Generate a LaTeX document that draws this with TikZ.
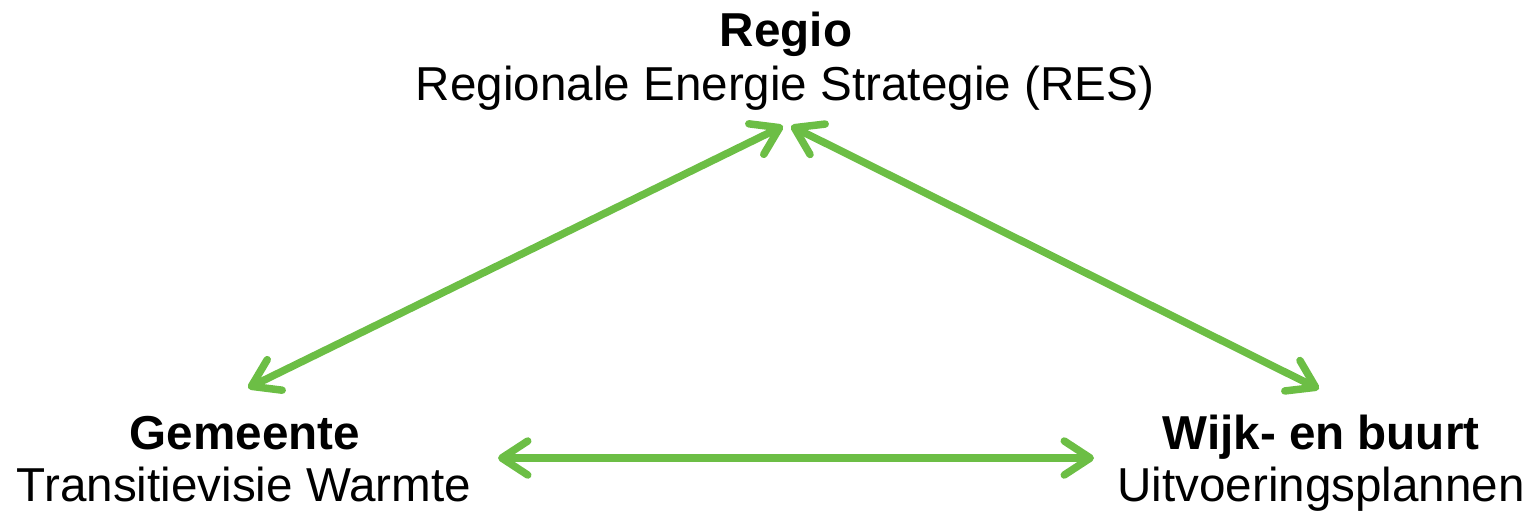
\documentclass[tikz,border=0pt]{standalone}
\usepackage{fontspec}
\setmainfont{Liberation Sans}
\usetikzlibrary{arrows.meta}
\definecolor{arrgreen}{RGB}{108,190,69}
\tikzset{
  lbl/.style={anchor=base, inner sep=0pt, font=\fontsize{47.6}{53}\selectfont},
  ttl/.style={lbl, font=\fontsize{47.6}{53}\selectfont\bfseries},
  link/.style={draw=arrgreen, line width=7.5pt, line cap=round,
    {Straight Barb[length=26pt,width=34pt,line cap=round,line join=round]}-{Straight Barb[length=26pt,width=34pt,line cap=round,line join=round]}}
}
\begin{document}
\begin{tikzpicture}[x=1pt,y=-1pt]
\useasboundingbox (0,0) rectangle (1538,515);
\node[ttl] (regioT) at (786,46) {Regio};
\node[lbl] (regio) at (785,100) {Regionale Energie Strategie (RES)};
\node[ttl] (gemT) at (245,449) {Gemeente};
\node[lbl] (gem) at (244,501) {Transitievisie Warmte};
\node[ttl] (wijkT) at (1321,449) {Wijk- en buurt};
\node[lbl] (wijk) at (1321,501) {Uitvoeringsplannen};
\coordinate (tA) at (783,126);
\coordinate (tB) at (791,126);
\coordinate (gA) at (248,388);
\coordinate (wA) at (1319,389);
\coordinate (hL) at (498,458);
\coordinate (hR) at (1094,458);
\draw[link] (gA) -- (tA);
\draw[link] (tB) -- (wA);
\draw[link] (hL) -- (hR);
\end{tikzpicture}
\end{document}
